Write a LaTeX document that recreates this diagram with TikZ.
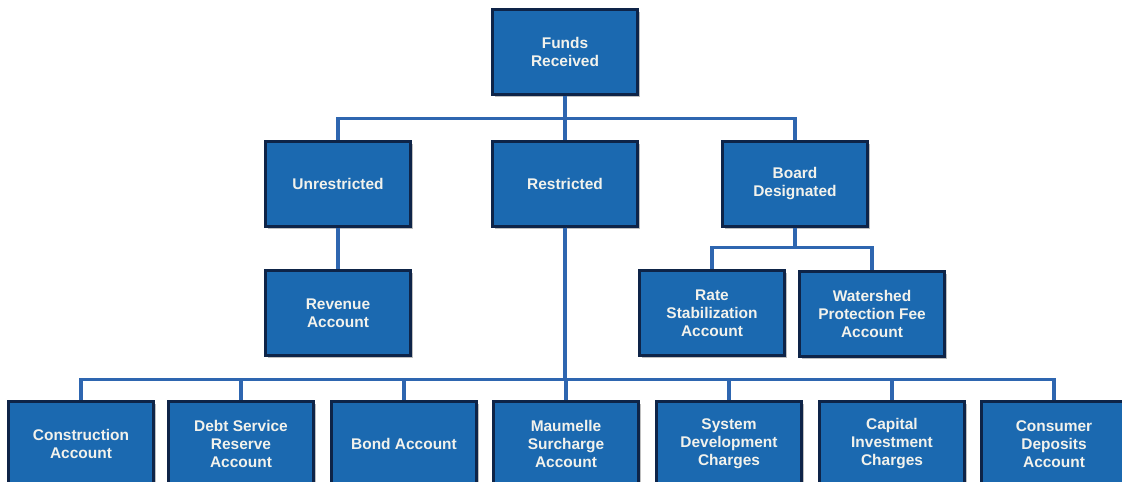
\documentclass[tikz,border=0pt]{standalone}
\usepackage{fontspec}
\setmainfont{Liberation Sans}
\usetikzlibrary{shadows}
\definecolor{boxblue}{RGB}{27,105,176}
\definecolor{boxedge}{RGB}{14,36,72}
\definecolor{linkblue}{RGB}{46,102,176}
\definecolor{boxtext}{RGB}{242,242,236}
\tikzset{
  fund/.style={draw=boxedge, line width=1.6pt, fill=boxblue, text=boxtext,
    minimum width=3.625cm, minimum height=2.125cm, align=center,
    font=\fontsize{11}{12.8}\selectfont\bfseries,
    drop shadow={shadow xshift=2pt, shadow yshift=-2pt, opacity=0.5}},
  link/.style={draw=linkblue, line width=2.2pt}
}
\begin{document}
\begin{tikzpicture}[x=0.025cm, y=-0.025cm]
        \useasboundingbox (0,0) rectangle (1122,481);
        % Top level
        \node[fund] (funds) at (565, 52) {Funds\\Received};
        % Second level
        \node[fund] (unres) at (338, 184) {Unrestricted};
        \node[fund] (restr) at (565, 184) {Restricted};
        \node[fund] (board) at (795, 184) {Board\\Designated};
        % Third level
        \node[fund] (revenue) at (338, 313) {Revenue\\Account};
        \node[fund] (rate) at (712, 313) {Rate\\Stabilization\\Account};
        \node[fund] (water) at (872, 314) {Watershed\\Protection Fee\\Account};
        % Bottom row under Restricted
        \node[fund] (constr) at (81, 444) {Construction\\Account};
        \node[fund] (debt) at (241, 444) {Debt Service\\Reserve\\Account};
        \node[fund] (bond) at (404, 444) {Bond Account};
        \node[fund] (maum) at (566, 444) {Maumelle\\Surcharge\\Account};
        \node[fund] (sysdev) at (729, 444) {System\\Development\\Charges};
        \node[fund] (capital) at (892, 444) {Capital\\Investment\\Charges};
        \node[fund] (consumer) at (1054, 444) {Consumer\\Deposits\\Account};

        % Connectors
        \draw[link] (funds.south) -- (restr.north);
        \draw[link] (funds.south) -- ++(0, 23) -| (unres.north);
        \draw[link] (funds.south) -- ++(0, 23) -| (board.north);
        \draw[link] (unres.south) -- (revenue.north);
        \draw[link] (board.south) -- ++(0, 20) -| (rate.north);
        \draw[link] (board.south) -- ++(0, 20) -| (water.north);
        \foreach \acct in {constr, debt, bond, maum, sysdev, capital, consumer}
          \draw[link] (restr.south) -- ++(0, 152) -| (\acct.north);
    \end{tikzpicture}
\end{document}
